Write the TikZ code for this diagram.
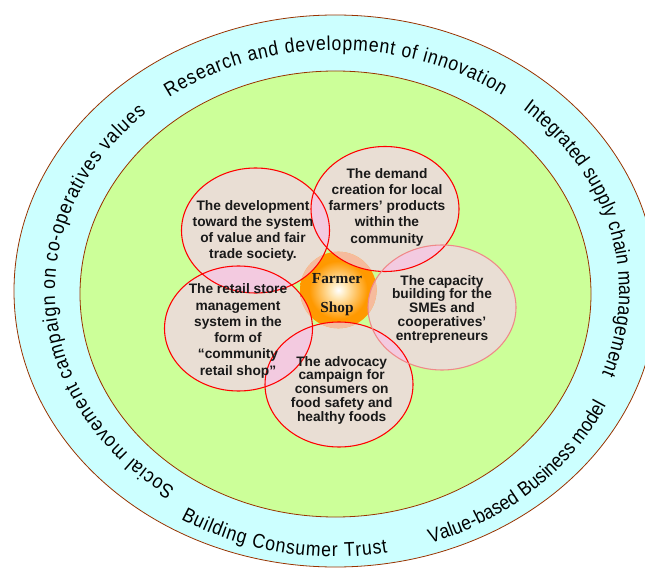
\documentclass[tikz,border=0pt]{standalone}
\usepackage{fontspec}
\setmainfont{Liberation Sans}
\newfontfamily\shopfont{Liberation Serif}
\newfontfamily\ringface[FakeStretch=0.88]{Liberation Sans}
\usepackage{xcolor}
\usepackage{tikz}
\usetikzlibrary{calc, decorations.text}
\definecolor{ringfill}{HTML}{CCFFFF}
\definecolor{fieldfill}{HTML}{CCFF99}
\definecolor{rimline}{HTML}{993300}
\definecolor{petalfill}{HTML}{E9DED4}
\definecolor{overlap}{HTML}{F3CAE0}
\definecolor{shoporange}{HTML}{FF9900}
\definecolor{shoplight}{HTML}{FFE8B8}
\definecolor{petalline}{HTML}{FF0000}
\definecolor{softline}{HTML}{F08888}
\newcommand{\ringfont}{\ringface\fontsize{15}{18}\selectfont}
\pgfdeclareradialshading{shopglow}{\pgfpointorigin}{color(0bp)=(white); color(5bp)=(shoplight); color(19bp)=(shoporange); color(50bp)=(shoporange)}
\tikzstyle{rim} = [draw=rimline, line width=0.6pt]
\tikzstyle{petal} = [fill=petalfill]
\tikzstyle{petaledge} = [draw=petalline, line width=0.8pt]
\tikzstyle{petaltext} = [align=center, inner sep=0pt, text=black!90, font=\bfseries\fontsize{10.3}{12.2}\selectfont]
\tikzstyle{tightpetaltext} = [petaltext, font=\bfseries\fontsize{10.3}{10.3}\selectfont]
\tikzstyle{ringtext} = [decorate, decoration={text along path, text align={fit to path}}]

\begin{document}
\begin{tikzpicture}[x=0.75pt, y=0.75pt]
    \clip (0,0) rectangle (645,568);

    % Rings
    \fill[ringfill, rim] (335.5,277) ellipse [x radius=321.5, y radius=276];
    \fill[fieldfill, rim] (335.5,274) ellipse [x radius=255.5, y radius=223];

    % Ring labels (outer side up, then inner side up)
    \coordinate (hub) at (337,277);
    \coordinate (lowhub) at (335.5,277);
    \path[ringtext, decoration={text={|\ringfont|Social movement campaign on co-operatives values}}]
        ($(hub)+(235:282 and 241)$) arc [start angle=235, end angle=132.5, x radius=282, y radius=241];
    \path[ringtext, decoration={text={|\ringfont|Research and development of innovation}}]
        ($(hub)+(126.5:282 and 241)$) arc [start angle=126.5, end angle=54.2, x radius=282, y radius=241];
    \path[ringtext, decoration={text={|\ringfont|Integrated supply chain management}}]
        ($(hub)+(48.8:282 and 241)$) arc [start angle=48.8, end angle=-20, x radius=282, y radius=241];
    \path[ringtext, decoration={text={|\ringfont|Building Consumer Trust}}]
        ($(lowhub)+(239:300 and 266)$) arc [start angle=239, end angle=280, x radius=300, y radius=266];
    \path[ringtext, decoration={text={|\ringfont|Value-based Business model}}]
        ($(lowhub)+(288.5:300 and 266)$) arc [start angle=288.5, end angle=334.5, x radius=300, y radius=266];

    % Petals
    \coordinate (p1) at (255.5,337.5);
    \coordinate (p2) at (385,359);
    \coordinate (p3) at (442,260.5);
    \coordinate (p4) at (339,183.5);
    \coordinate (p5) at (238.5,239.5);
    \coordinate (shop) at (338.3,278);
    \foreach \p in {p1,p2,p3,p4,p5}
        \fill[petal] (\p) ellipse [x radius=74, y radius=62.5];
    \foreach \a/\b in {p1/p2, p2/p3, p3/p4, p4/p5, p5/p1} {
        \begin{scope}
            \clip (\a) ellipse [x radius=74, y radius=62.5];
            \fill[overlap] (\b) ellipse [x radius=74, y radius=62.5];
        \end{scope}
    }

    % Farmer shop centre
    \shade[shading=shopglow] (shop) circle [radius=38.3];
    \foreach \p in {p1,p2,p3,p4,p5} {
        \begin{scope}
            \clip (shop) circle [radius=38.3];
            \fill[overlap, fill opacity=0.7] (\p) ellipse [x radius=74, y radius=62.5];
        \end{scope}
    }

    % Petal outlines
    \foreach \p in {p1,p2,p4,p5}
        \draw[petaledge] (\p) ellipse [x radius=74, y radius=62.5];
    \draw[petaledge, draw=softline] (p3) ellipse [x radius=74, y radius=62.5];

    % Petal labels
    \node[petaltext] (fairtrade) at (253,337) {The development\\toward the system\\of value and fair\\trade society.};
    \node[petaltext] (demand) at (387,361) {The demand\\creation for local\\farmers’ products\\within the\\community};
    \node[tightpetaltext] (capacity) at (442,259) {The capacity\\building for the\\SMEs and\\cooperatives’\\entrepreneurs};
    \node[tightpetaltext] (advocacy) at (341.7,178) {The advocacy\\campaign for\\consumers on\\food safety and\\healthy foods};
    \node[petaltext] (retail) at (238,237) {The retail store\\management\\system in the\\form of\\“community\\retail shop”};
    \node[align=center, inner sep=0pt, text=black!90, font=\shopfont\bfseries\fontsize{11.5}{21.7}\selectfont] (farmershop) at (337,273) {Farmer\\Shop};
\end{tikzpicture}
\end{document}
